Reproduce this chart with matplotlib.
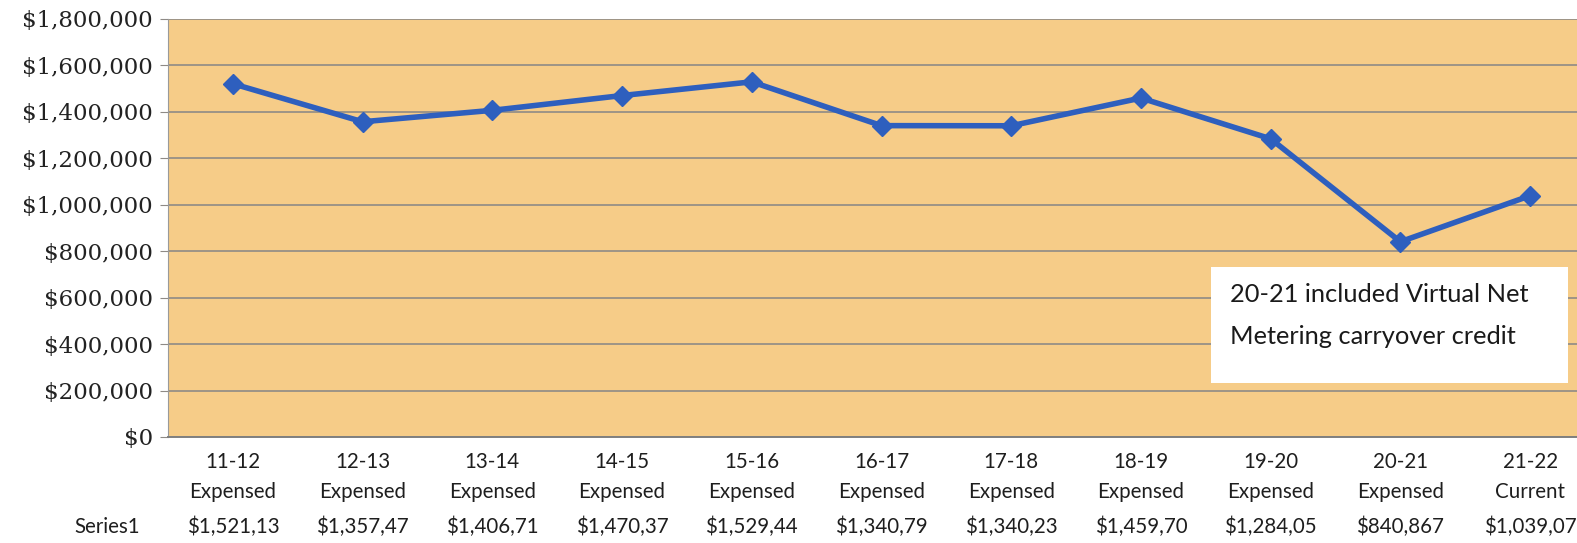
import matplotlib.pyplot as plt
import matplotlib.transforms as mtransforms
from matplotlib.patches import Rectangle
from matplotlib.ticker import FuncFormatter

# Data
years = ["11-12", "12-13", "13-14", "14-15", "15-16", "16-17",
         "17-18", "18-19", "19-20", "20-21", "21-22"]
status = ["Expensed"] * 10 + ["Current"]
values = [1521130, 1357470, 1406710, 1470370, 1529440, 1340790,
          1340230, 1459700, 1284050, 840867, 1039070]
# table cells are clipped in the original, keep them as shown
table_labels = ["$1,521,13", "$1,357,47", "$1,406,71", "$1,470,37", "$1,529,44",
                "$1,340,79", "$1,340,23", "$1,459,70", "$1,284,05", "$840,867",
                "$1,039,07"]
yticks = [0, 200000, 400000, 600000, 800000, 1000000, 1200000,
          1400000, 1600000, 1800000]

W, H = 1577, 543
fig = plt.figure(figsize=(W / 100, H / 100), dpi=100)
fig.patch.set_facecolor("white")

# plot area runs a little past the right edge of the picture (cropped scan)
left, right, top, bottom = 168, 1595, 19, 437
ax = fig.add_axes([left / W, (H - bottom) / H, (right - left) / W, (bottom - top) / H])
ax.set_facecolor("#F6CC88")

x = list(range(len(years)))
ax.plot(x, values, color="#2E5FBE", lw=4, marker="D", markersize=10.5,
        markerfacecolor="#2E5FBE", markeredgecolor="#2E5FBE", zorder=3)

ax.set_xlim(-0.5, len(years) - 0.5)
ax.set_ylim(0, 1800000)
ax.set_yticks(yticks)
ax.yaxis.set_major_formatter(FuncFormatter(lambda v, p: "${:,.0f}".format(v)))
ax.grid(axis="y", color="#8E8A86", lw=1.2, zorder=1)
ax.set_axisbelow(True)

for s in ["top", "right"]:
    ax.spines[s].set_visible(False)
ax.spines["left"].set_color("#9A9A9A")
ax.spines["bottom"].set_color("#7F7F7F")
ax.spines["bottom"].set_linewidth(1.4)

ax.tick_params(axis="y", length=6, color="#8E8A86", pad=5, labelsize=16.5)
for lab in ax.get_yticklabels():
    lab.set_fontfamily("DejaVu Serif")
    lab.set_color("#222222")

ax.set_xticks(x)
ax.set_xticklabels([f"{y}\n{s}" for y, s in zip(years, status)],
                   fontfamily="Lato", fontsize=14.8, color="#1E1E1E", linespacing=1.62)
ax.tick_params(axis="x", length=0, pad=11)

# data table row under the axis
trans = mtransforms.blended_transform_factory(ax.transData, ax.transAxes)
row_y = -(527 - bottom) / (bottom - top)
for i, lab in enumerate(table_labels):
    ax.text(i, row_y, lab, transform=trans, ha="center", va="center",
            fontfamily="Lato", fontsize=14.8, color="#1E1E1E", clip_on=False)
ax.text((140 - left) / (right - left), row_y, "Series1", transform=ax.transAxes,
        ha="right", va="center", fontfamily="Lato", fontsize=14.8, color="#1E1E1E")

# note box
bx0 = (1211 - left) / (right - left)
bw = (1568 - 1211) / (right - left)
by0 = (bottom - 383) / (bottom - top)
bh = (383 - 267) / (bottom - top)
ax.add_patch(Rectangle((bx0, by0), bw, bh, transform=ax.transAxes,
                       facecolor="white", edgecolor="none", zorder=4))
tx = (1230 - left) / (right - left)
ax.text(tx, (bottom - 294) / (bottom - top), "20-21 included Virtual Net",
        transform=ax.transAxes, ha="left", va="center", fontfamily="Lato",
        fontsize=18.3, color="#1A1A1A", zorder=5)
ax.text(tx, (bottom - 336) / (bottom - top), "Metering carryover credit",
        transform=ax.transAxes, ha="left", va="center", fontfamily="Lato",
        fontsize=18.3, color="#1A1A1A", zorder=5)

fig.savefig("out.png", dpi=100)
